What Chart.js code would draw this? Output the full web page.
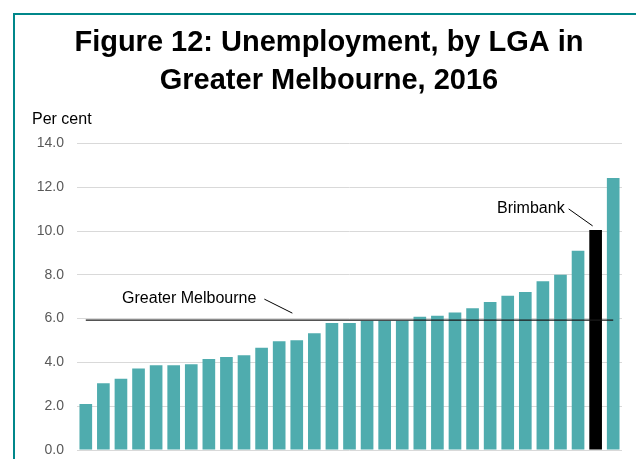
<!DOCTYPE html>
<html>
<head>
<meta charset="utf-8">
<script src="https://cdn.jsdelivr.net/npm/chart.js@4.4.1/dist/chart.umd.min.js"></script>
<style>
  body { margin: 0; background: #fff; }
  #wrap { position: relative; width: 636px; height: 459px; overflow: hidden; }
  #frame {
    position: absolute; left: 13px; top: 13px; right: 0; bottom: 0;
    border-top: 2px solid #00878A; border-left: 2px solid #00878A;
    pointer-events: none;
  }
</style>
</head>
<body>
<div id="wrap">
  <canvas id="lgaChart" width="636" height="459"></canvas>
  <div id="frame"></div>
</div>
<script>
// Unemployment rate by LGA, sorted (per cent)
const rates = [
  2.1, 3.05, 3.25, 3.72, 3.87, 3.87, 3.92, 4.15, 4.25, 4.33,
  4.67, 4.97, 5.01, 5.33, 5.8, 5.8, 5.9, 5.9, 5.9, 6.08,
  6.13, 6.28, 6.47, 6.76, 7.04, 7.22, 7.71, 8.0, 9.1, 10.05,
  12.42,
];
const lgaLabels = rates.map((v, i) => "LGA " + (i + 1));
const highlightIndex = 29;
const highlightName = "Brimbank";
const greaterMelbourne = 5.93;
const yTicks = [0, 2, 4, 6, 8, 10, 12, 14];

const teal = "#4FACAE";
const barColors = rates.map((v, i) => (i === highlightIndex ? "#000000" : teal));
const fontFamily = "'Liberation Sans', Arial, sans-serif";

const annotations = {
  id: "annotations",
  afterDatasetsDraw(chart) {
    const ctx = chart.ctx;
    const x = chart.scales.x;
    const y = chart.scales.y;
    const area = chart.chartArea;
    ctx.save();
    ctx.fillStyle = "#000";
    ctx.strokeStyle = "#000";
    ctx.lineWidth = 1;
    ctx.font = "16px " + fontFamily;
    ctx.textBaseline = "middle";

    // Per cent
    ctx.textAlign = "left";
    ctx.fillText("Per cent", area.left - 45, area.top - 24);

    // Greater Melbourne label
    const gmY = y.getPixelForValue(greaterMelbourne);
    const gmX = x.getPixelForValue(11.75);
    ctx.textAlign = "right";
    ctx.fillText("Greater Melbourne", gmX - 36, gmY - 22);
    ctx.beginPath();
    ctx.moveTo(gmX - 28, gmY - 21);
    ctx.lineTo(gmX, gmY - 7);
    ctx.stroke();

    // Brimbank label
    const bx = x.getPixelForValue(highlightIndex);
    const by = y.getPixelForValue(rates[highlightIndex]);
    ctx.fillText(highlightName, bx - 31, by - 21);
    ctx.beginPath();
    ctx.moveTo(bx - 27, by - 21);
    ctx.lineTo(bx - 3, by - 4);
    ctx.stroke();
    ctx.restore();
  },
};

new Chart(document.getElementById("lgaChart"), {
  type: "bar",
  data: {
    labels: lgaLabels,
    datasets: [
      {
        type: "line",
        label: "Greater Melbourne",
        data: rates.map(() => greaterMelbourne),
        borderColor: "#1a1a1a",
        borderWidth: 1.4,
        pointRadius: 0,
        order: 0,
      },
      {
        label: "Unemployment",
        data: rates,
        backgroundColor: barColors,
        barPercentage: 0.72,
        categoryPercentage: 1,
        order: 1,
      },
    ],
  },
  options: {
    responsive: false,
    animation: false,
    layout: { padding: { left: 36, right: 14, top: 0, bottom: 9 } },
    plugins: {
      legend: { display: false },
      tooltip: { enabled: false },
      title: {
        display: true,
        text: ["Figure 12: Unemployment, by LGA in", "Greater Melbourne, 2016"],
        color: "#000",
        font: { family: fontFamily, size: 29, weight: "bold", lineHeight: 1.3 },
        padding: { top: 24, bottom: 44 },
      },
    },
    scales: {
      x: { display: false },
      y: {
        min: 0,
        max: 14,
        afterBuildTicks: (axis) => { axis.ticks = yTicks.map((v) => ({ value: v })); },
        afterFit: (axis) => {
          axis.width = 41;
          axis.paddingTop = 0;
          axis.paddingBottom = 0;
        },
        border: { display: false },
        grid: { color: "#D9D9D9", lineWidth: 1, drawTicks: false },
        ticks: {
          padding: 13,
          color: "#595959",
          font: { family: fontFamily, size: 14 },
          callback: (v) => Number(v).toFixed(1),
        },
      },
    },
  },
  plugins: [annotations],
});
</script>
</body>
</html>
